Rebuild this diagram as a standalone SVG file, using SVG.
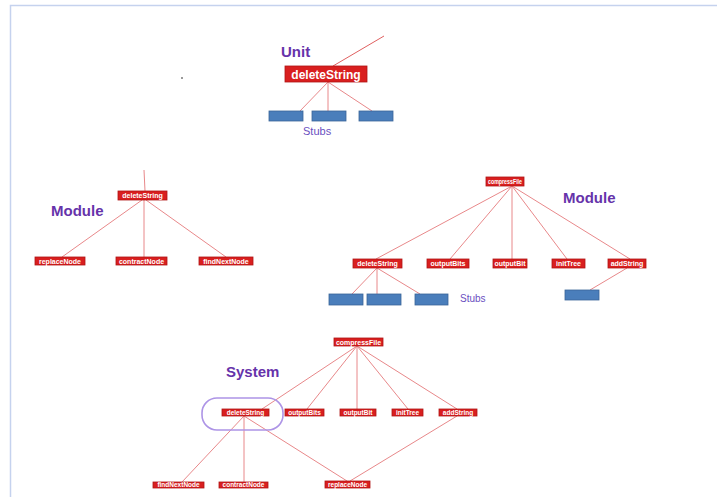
<svg xmlns="http://www.w3.org/2000/svg" width="717" height="497" viewBox="0 0 717 497">
<style>
.bg{fill:#ffffff}
.frame{fill:none;stroke:#c5d2ee;stroke-width:1.5}
.ln{stroke:#e8888a;stroke-width:1;fill:none}
.box{fill:#d91f1f;stroke:#b01414;stroke-width:0.8}
.lbl{fill:#ffffff;font-family:"Liberation Sans",Arial,sans-serif;font-weight:bold;font-size:7px;text-anchor:middle}
.big{font-size:12px}
.stub{fill:#4a7ebb;stroke:#3a6598;stroke-width:0.8}
.title{fill:#6633aa;font-family:"Liberation Sans",Arial,sans-serif;font-weight:bold;font-size:15px}
.stubs{fill:#6a4fbf;font-family:"Liberation Sans",Arial,sans-serif;font-size:11px}
</style>
<rect class="bg" x="0" y="0" width="717" height="497"/>
<path class="frame" d="M10.5 497 V5.5 H717"/>
<rect x="181" y="77" width="2" height="2" fill="#9a9a9a"/>

<g id="connectors">
  <line class="ln" x1="333" y1="66" x2="384" y2="36" style="stroke:#e06060"/>
  <line class="ln" x1="328" y1="82" x2="300" y2="111"/>
  <line class="ln" x1="328" y1="82" x2="328" y2="111"/>
  <line class="ln" x1="328" y1="82" x2="372" y2="111"/>
  <line class="ln" x1="144" y1="170" x2="145" y2="191"/>
  <line class="ln" x1="142" y1="200" x2="62" y2="257"/>
  <line class="ln" x1="144" y1="200" x2="144" y2="257"/>
  <line class="ln" x1="146" y1="200" x2="226" y2="257"/>
  <line class="ln" x1="512" y1="186" x2="376" y2="259"/>
  <line class="ln" x1="512" y1="186" x2="450" y2="259"/>
  <line class="ln" x1="512" y1="186" x2="512" y2="259"/>
  <line class="ln" x1="512" y1="186" x2="567" y2="259"/>
  <line class="ln" x1="512" y1="186" x2="630" y2="259"/>
  <line class="ln" x1="377" y1="268" x2="352" y2="294"/>
  <line class="ln" x1="377" y1="268" x2="377" y2="294"/>
  <line class="ln" x1="377" y1="268" x2="420" y2="294"/>
  <line class="ln" x1="627" y1="268" x2="590" y2="290"/>
  <line class="ln" x1="357" y1="346" x2="262" y2="409"/>
  <line class="ln" x1="357" y1="346" x2="307" y2="409"/>
  <line class="ln" x1="357" y1="346" x2="357" y2="409"/>
  <line class="ln" x1="357" y1="346" x2="408" y2="409"/>
  <line class="ln" x1="357" y1="346" x2="457" y2="409"/>
  <line class="ln" x1="244" y1="416" x2="182" y2="482"/>
  <line class="ln" x1="244" y1="416" x2="244" y2="482"/>
  <line class="ln" x1="244" y1="416" x2="347" y2="481"/>
  <line class="ln" x1="457" y1="416" x2="350" y2="481"/>
</g>

<g id="unit-title"><text class="title" x="281" y="57">Unit</text></g>
<g id="unit-deleteString">
  <rect class="box" x="285" y="66" width="82" height="16"/>
  <text class="lbl big" x="326" y="78.5">deleteString</text>
</g>
<g id="unit-stub1"><rect class="stub" x="269" y="111" width="34" height="10"/></g>
<g id="unit-stub2"><rect class="stub" x="312" y="111" width="34" height="10"/></g>
<g id="unit-stub3"><rect class="stub" x="359" y="111" width="34" height="10"/></g>
<g id="unit-stubs-label"><text class="stubs" x="303" y="135">Stubs</text></g>

<g id="modL-title"><text class="title" x="51" y="216">Module</text></g>
<g id="modL-deleteString">
  <rect class="box" x="118" y="191" width="49" height="9"/>
  <text class="lbl" x="142.5" y="198">deleteString</text>
</g>
<g id="modL-replaceNode">
  <rect class="box" x="35" y="257" width="50" height="8"/>
  <text class="lbl" x="60" y="263.6">replaceNode</text>
</g>
<g id="modL-contractNode">
  <rect class="box" x="116" y="257" width="51" height="8"/>
  <text class="lbl" x="141.5" y="263.6">contractNode</text>
</g>
<g id="modL-findNextNode">
  <rect class="box" x="199" y="257" width="54" height="8"/>
  <text class="lbl" x="226" y="263.6">findNextNode</text>
</g>

<g id="modR-title"><text class="title" x="563" y="203">Module</text></g>
<g id="modR-compressFile">
  <rect class="box" x="486" y="177" width="38" height="9"/>
  <text class="lbl" x="505" y="183.8" textLength="34" lengthAdjust="spacingAndGlyphs" style="font-size:6.5px">compressFile</text>
</g>
<g id="modR-deleteString">
  <rect class="box" x="353" y="259" width="49" height="9"/>
  <text class="lbl" x="377.5" y="266">deleteString</text>
</g>
<g id="modR-outputBits">
  <rect class="box" x="427" y="259" width="42" height="9"/>
  <text class="lbl" x="448" y="266">outputBits</text>
</g>
<g id="modR-outputBit">
  <rect class="box" x="493" y="259" width="34" height="9"/>
  <text class="lbl" x="510" y="266">outputBit</text>
</g>
<g id="modR-initTree">
  <rect class="box" x="552" y="259" width="33" height="9"/>
  <text class="lbl" x="568.5" y="266">initTree</text>
</g>
<g id="modR-addString">
  <rect class="box" x="608" y="259" width="38" height="9"/>
  <text class="lbl" x="627" y="266">addString</text>
</g>
<g id="modR-stub1"><rect class="stub" x="329" y="294" width="34" height="11"/></g>
<g id="modR-stub2"><rect class="stub" x="367" y="294" width="34" height="11"/></g>
<g id="modR-stub3"><rect class="stub" x="415" y="294" width="33" height="11"/></g>
<g id="modR-stub4"><rect class="stub" x="565" y="290" width="34" height="10"/></g>
<g id="modR-stubs-label"><text class="stubs" x="460" y="302" style="font-size:10px">Stubs</text></g>

<g id="sys-title"><text class="title" x="226" y="377">System</text></g>
<g id="sys-compressFile">
  <rect class="box" x="334" y="338" width="49" height="8"/>
  <text class="lbl" x="358.5" y="344.6">compressFile</text>
</g>
<g id="sys-highlight">
  <rect x="202" y="398" width="81" height="32" rx="15" ry="15" fill="none" stroke="#ad94e6" stroke-width="1.6"/>
</g>
<g id="sys-deleteString">
  <rect class="box" x="222" y="409" width="47" height="7"/>
  <text class="lbl" x="245.5" y="415" style="font-size:6.5px">deleteString</text>
</g>
<g id="sys-outputBits">
  <rect class="box" x="285" y="409" width="39" height="7"/>
  <text class="lbl" x="304.5" y="415" style="font-size:6.5px">outputBits</text>
</g>
<g id="sys-outputBit">
  <rect class="box" x="340" y="409" width="36" height="7"/>
  <text class="lbl" x="358" y="415" style="font-size:6.5px">outputBit</text>
</g>
<g id="sys-initTree">
  <rect class="box" x="392" y="409" width="31" height="7"/>
  <text class="lbl" x="407.5" y="415" style="font-size:6.5px">initTree</text>
</g>
<g id="sys-addString">
  <rect class="box" x="439" y="409" width="38" height="7"/>
  <text class="lbl" x="458" y="415" style="font-size:6.5px">addString</text>
</g>
<g id="sys-findNextNode">
  <rect class="box" x="153" y="482" width="51" height="6"/>
  <text class="lbl" x="178.5" y="487.3" style="font-size:6.5px">findNextNode</text>
</g>
<g id="sys-contractNode">
  <rect class="box" x="219" y="482" width="49" height="6"/>
  <text class="lbl" x="243.5" y="487.3" style="font-size:6.5px">contractNode</text>
</g>
<g id="sys-replaceNode">
  <rect class="box" x="325" y="481" width="45" height="7"/>
  <text class="lbl" x="347.5" y="487" style="font-size:6.5px">replaceNode</text>
</g>
</svg>
